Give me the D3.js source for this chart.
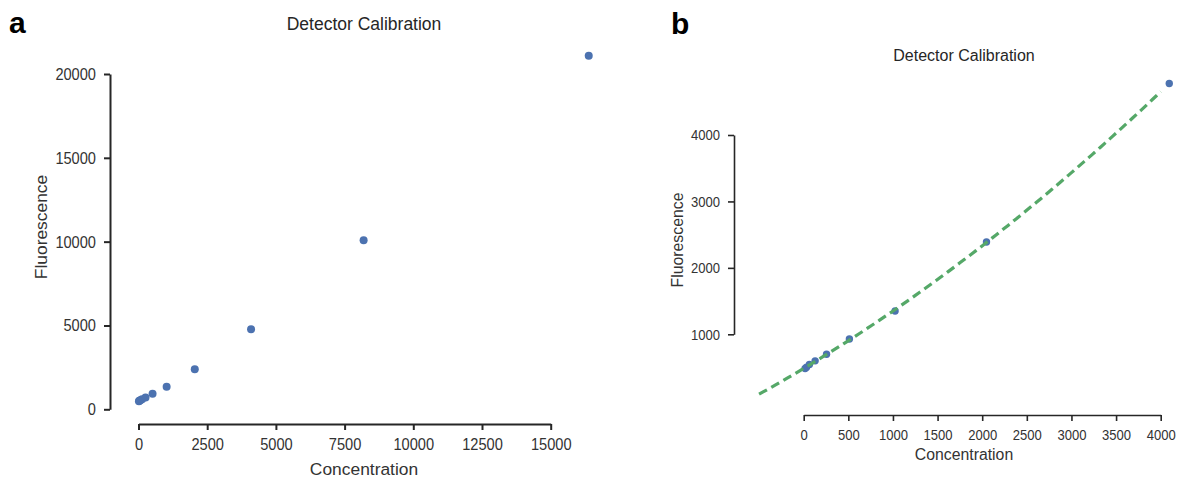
<!DOCTYPE html>
<html>
<head>
<meta charset="utf-8">
<script src="https://cdn.jsdelivr.net/npm/d3@7"></script>
<style>
  html, body { margin: 0; padding: 0; background: #fff; }
  svg { display: block; }
  text { font-family: "Liberation Sans", Arial, Helvetica, sans-serif; }
</style>
</head>
<body>
<svg id="chart" width="1180" height="480"></svg>
<script>
// ---------- data ----------
const concentration = [16, 32, 64, 128, 256, 512, 1024, 2048, 4096, 8192, 16384];
const fluorescence  = [485, 505, 545, 600, 700, 930, 1350, 2390, 4775, 10090, 21090];

const panelLabels = ["a", "b"];
const chartTitle = "Detector Calibration";
const xLabel = "Concentration";
const yLabel = "Fluorescence";

const xTicksA = [0, 2500, 5000, 7500, 10000, 12500, 15000];
const yTicksA = [0, 5000, 10000, 15000, 20000];
const xTicksB = [0, 500, 1000, 1500, 2000, 2500, 3000, 3500, 4000];
const yTicksB = [1000, 2000, 3000, 4000];

const zoomMaxConc = 4096;          // points shown in panel b
const fitRange = [-500, 4000];     // concentration range of fitted curve
const fitDegree = 2;

// ---------- helpers ----------
const points = concentration.map((c, i) => ({ c, f: fluorescence[i] }));

function polyfit(xs, ys, deg) {
  const n = deg + 1;
  const A = Array.from({ length: n }, () => new Array(n + 1).fill(0));
  for (let k = 0; k < xs.length; k++) {
    for (let i = 0; i < n; i++) {
      for (let j = 0; j < n; j++) A[i][j] += Math.pow(xs[k], i + j);
      A[i][n] += ys[k] * Math.pow(xs[k], i);
    }
  }
  for (let i = 0; i < n; i++) {
    let p = i;
    for (let r = i + 1; r < n; r++) if (Math.abs(A[r][i]) > Math.abs(A[p][i])) p = r;
    [A[i], A[p]] = [A[p], A[i]];
    for (let r = 0; r < n; r++) {
      if (r === i) continue;
      const f = A[r][i] / A[i][i];
      for (let cc = i; cc <= n; cc++) A[r][cc] -= f * A[i][cc];
    }
  }
  return A.map((row, i) => row[n] / row[i]);
}

const svg = d3.select("#chart");
const axisColor = "#262626";
const textColor = "#262626";
const pointColor = "#4c72b0";
const fitColor = "#55a868";
const condense = 0.87;   // glyphs in the reference are slightly narrow

function styleAxis(g, width, fontSize) {
  g.select(".domain").attr("stroke", axisColor).attr("stroke-width", width);
  g.selectAll(".tick line").attr("stroke", axisColor).attr("stroke-width", width);
  g.selectAll(".tick text")
    .attr("fill", "#333")
    .style("font-size", fontSize + "px")
    .style("font-family", '"Liberation Sans", Arial, sans-serif')
    .each(function () {
      const t = d3.select(this);
      const x = +t.attr("x") || 0;
      t.attr("x", x / condense).attr("transform", `scale(${condense},1)`);
    });
}

// ---------- panel a ----------
const xA = d3.scaleLinear().domain([0, 15000]).range([138.5, 550.7]);
const yA = d3.scaleLinear().domain([0, 20000]).range([409.3, 74]);

const gA = svg.append("g");
gA.append("g")
  .attr("transform", "translate(0,424)")
  .call(d3.axisBottom(xA).tickValues(xTicksA).tickSize(6).tickSizeOuter(0).tickPadding(8).tickFormat(d3.format("d")))
  .call(g => styleAxis(g, 2, 16.8));
gA.append("g")
  .attr("transform", "translate(110,0)")
  .call(d3.axisLeft(yA).tickValues(yTicksA).tickSize(6).tickSizeOuter(0).tickPadding(8).tickFormat(d3.format("d")))
  .call(g => styleAxis(g, 2, 16.8));

gA.selectAll("circle.pt")
  .data(points)
  .join("circle")
  .attr("class", "pt")
  .attr("cx", d => xA(d.c))
  .attr("cy", d => yA(d.f))
  .attr("r", 4)
  .attr("fill", pointColor);

gA.append("text")
  .attr("x", 364).attr("y", 30)
  .attr("text-anchor", "middle")
  .attr("fill", textColor)
  .style("font-size", "17.5px")
  .text(chartTitle);
gA.append("text")
  .attr("x", 364).attr("y", 475)
  .attr("text-anchor", "middle")
  .attr("fill", "#333")
  .style("font-size", "17.4px")
  .text(xLabel);
gA.append("text")
  .attr("transform", "translate(47,227) rotate(-90)")
  .attr("text-anchor", "middle")
  .attr("fill", "#333")
  .style("font-size", "17.4px")
  .text(yLabel);
gA.append("text")
  .attr("x", 9).attr("y", 33)
  .attr("fill", "#000")
  .style("font-size", "30px")
  .style("font-weight", "bold")
  .text(panelLabels[0]);

// ---------- panel b ----------
const xB = d3.scaleLinear().domain([0, 4000]).range([803.7, 1160.7]);
const yB = d3.scaleLinear().domain([1000, 4000]).range([334.3, 135]);

const gB = svg.append("g");
gB.append("g")
  .attr("transform", "translate(0,415)")
  .call(d3.axisBottom(xB).tickValues(xTicksB).tickSize(6).tickSizeOuter(0).tickPadding(8).tickFormat(d3.format("d")))
  .call(g => styleAxis(g, 1.6, 15));
gB.append("g")
  .attr("transform", "translate(734,0)")
  .call(d3.axisLeft(yB).tickValues(yTicksB).tickSize(6).tickSizeOuter(0).tickPadding(8).tickFormat(d3.format("d")))
  .call(g => styleAxis(g, 1.6, 15));

const subset = points.filter(d => d.c <= zoomMaxConc);
gB.selectAll("circle.pt")
  .data(subset)
  .join("circle")
  .attr("class", "pt")
  .attr("cx", d => xB(d.c))
  .attr("cy", d => yB(d.f))
  .attr("r", 3.7)
  .attr("fill", pointColor);

const coef = polyfit(subset.map(d => d.c), subset.map(d => d.f), fitDegree);
const fitX = d3.range(0, 101).map(i => fitRange[0] + (fitRange[1] - fitRange[0]) * i / 100);
const fitLine = d3.line()
  .x(c => xB(c))
  .y(c => yB(coef.reduce((s, a, i) => s + a * Math.pow(c, i), 0)));
gB.append("path")
  .datum(fitX)
  .attr("d", fitLine)
  .attr("fill", "none")
  .attr("stroke", fitColor)
  .attr("stroke-width", 3.2)
  .attr("stroke-dasharray", "9,5");

gB.append("text")
  .attr("x", 964).attr("y", 61)
  .attr("text-anchor", "middle")
  .attr("fill", textColor)
  .style("font-size", "16px")
  .text(chartTitle);
gB.append("text")
  .attr("x", 964).attr("y", 460)
  .attr("text-anchor", "middle")
  .attr("fill", "#333")
  .style("font-size", "15.8px")
  .text(xLabel);
gB.append("text")
  .attr("transform", "translate(683,240) rotate(-90)")
  .attr("text-anchor", "middle")
  .attr("fill", "#333")
  .style("font-size", "15.8px")
  .text(yLabel);
gB.append("text")
  .attr("x", 671).attr("y", 34)
  .attr("fill", "#000")
  .style("font-size", "30px")
  .style("font-weight", "bold")
  .text(panelLabels[1]);
</script>
</body>
</html>
